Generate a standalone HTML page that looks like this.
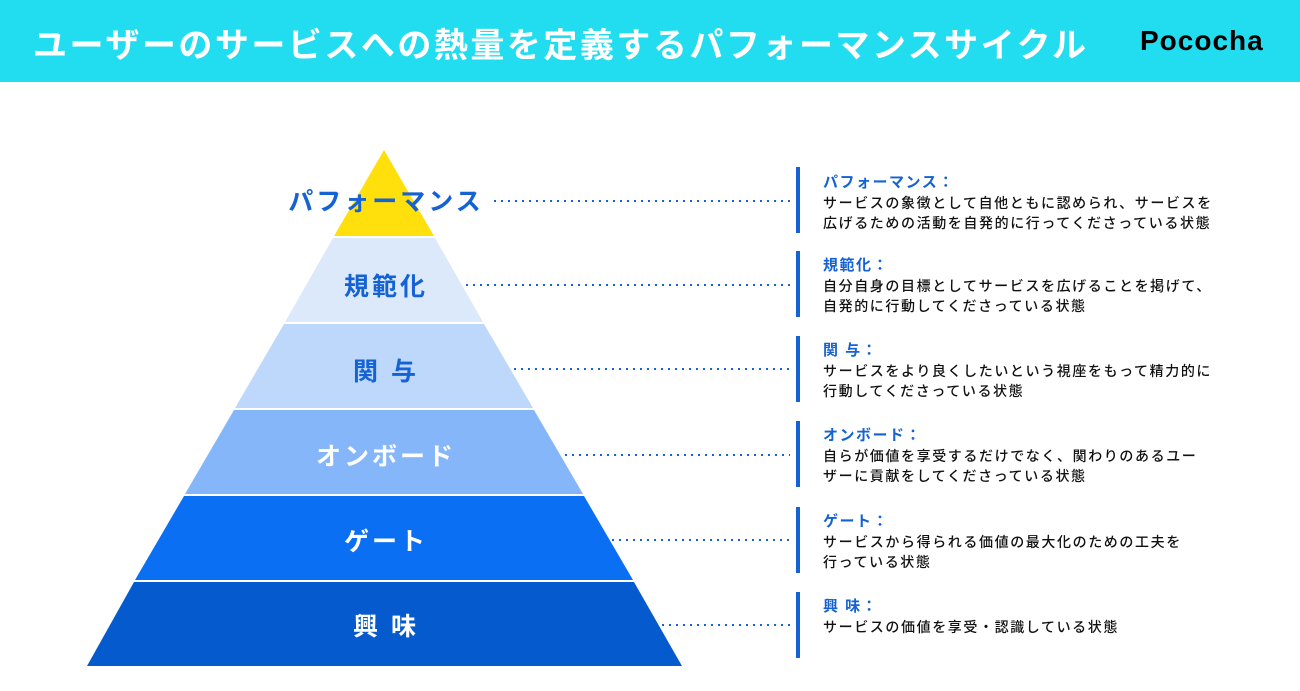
<!DOCTYPE html>
<html><head><meta charset="utf-8"><style>
html,body{margin:0;padding:0;width:1300px;height:691px;background:#fff;overflow:hidden;font-family:"Liberation Sans","Noto Sans CJK JP",sans-serif}
.hdr{position:absolute;left:0;top:0;width:1300px;height:82px;background:#22dcef}
.ttl{position:absolute;left:33px;top:18px;font-size:34px;font-weight:bold;color:#fff;letter-spacing:2.5px;white-space:nowrap}
.logo{position:absolute;left:1140px;top:25px;font-size:28px;font-weight:bold;color:#000;letter-spacing:1px}
.g{position:absolute;left:796px;width:4px;height:66px;background:#1462d4}
.t{position:absolute;left:823px;white-space:nowrap;color:#111;font-size:14px;line-height:20px;letter-spacing:1.6px;font-weight:500}
.t b{display:block;color:#1462d4;font-size:15px;line-height:20px;letter-spacing:1.5px}
</style></head><body>
<div class="hdr"></div>
<div class="ttl">ユーザーのサービスへの熱量を定義するパフォーマンスサイクル</div>
<div class="logo">Pococha</div>
<svg width="1300" height="691" style="position:absolute;left:0;top:0">
<polygon points="384,150 434,236 334,236" fill="#ffe00d"/>
<polygon points="333,238 435,238 483,322 285,322" fill="#dce9fb"/>
<polygon points="284,324 484,324 533,408 235,408" fill="#bdd8fb"/>
<polygon points="234,410 534,410 583,494 185,494" fill="#85b6f9"/>
<polygon points="184,496 584,496 633,580 135,580" fill="#0a6ff2"/>
<polygon points="134,582 634,582 682,666 87,666" fill="#055bcd"/>
<g font-size="25" font-weight="bold" text-anchor="middle" letter-spacing="3" font-family="Liberation Sans, Noto Sans CJK JP, sans-serif">
<text x="386" y="210" fill="#1462d4">パフォーマンス</text>
<text x="386" y="295" fill="#1462d4">規範化</text>
<text x="386" y="380" fill="#1462d4">関 与</text>
<text x="386" y="465" fill="#fff">オンボード</text>
<text x="386" y="550" fill="#fff">ゲート</text>
<text x="386" y="635" fill="#fff">興 味</text>
</g>
<g stroke="#1462d4" stroke-width="2" stroke-dasharray="2 5">
<line x1="494" y1="201" x2="790" y2="201"/>
<line x1="466" y1="285" x2="790" y2="285"/>
<line x1="514" y1="369" x2="790" y2="369"/>
<line x1="565" y1="455" x2="790" y2="455"/>
<line x1="612" y1="540" x2="790" y2="540"/>
<line x1="662" y1="625" x2="790" y2="625"/>
</g>
</svg>
<div class="g" style="top:167px"></div>
<div class="t" style="top:173px"><b>パフォーマンス：</b>サービスの象徴として自他ともに認められ、サービスを<br>広げるための活動を自発的に行ってくださっている状態</div>
<div class="g" style="top:251px"></div>
<div class="t" style="top:256px"><b>規範化：</b>自分自身の目標としてサービスを広げることを掲げて、<br>自発的に行動してくださっている状態</div>
<div class="g" style="top:336px"></div>
<div class="t" style="top:341px"><b>関 与：</b>サービスをより良くしたいという視座をもって精力的に<br>行動してくださっている状態</div>
<div class="g" style="top:421px"></div>
<div class="t" style="top:426px"><b>オンボード：</b>自らが価値を享受するだけでなく、関わりのあるユー<br>ザーに貢献をしてくださっている状態</div>
<div class="g" style="top:507px"></div>
<div class="t" style="top:512px"><b>ゲート：</b>サービスから得られる価値の最大化のための工夫を<br>行っている状態</div>
<div class="g" style="top:592px"></div>
<div class="t" style="top:597px"><b>興 味：</b>サービスの価値を享受・認識している状態</div>
</body></html>
